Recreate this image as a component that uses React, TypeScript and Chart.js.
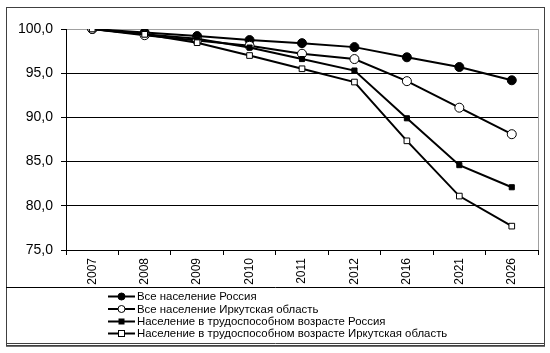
import React, { useEffect, useRef } from "react";
import { Chart, registerables } from "chart.js";

Chart.register(...registerables);

const years = ["2007", "2008", "2009", "2010", "2011", "2012", "2016", "2021", "2026"];
const allRussia = [100, 99.6, 99.2, 98.75, 98.4, 97.95, 96.8, 95.7, 94.2];
const allIrkutsk = [100, 99.3, 98.7, 98.1, 97.2, 96.6, 94.1, 91.1, 88.1];
const workRussia = [100, 99.4, 98.9, 97.9, 96.6, 95.3, 89.9, 84.6, 82.1];
const workIrkutsk = [100, 99.4, 98.45, 97.0, 95.5, 94.0, 87.35, 81.1, 77.7];
const seriesNames = [
  "Все население Россия",
  "Все население Иркутская область",
  "Население в трудоспособном возрасте Россия",
  "Население в трудоспособном возрасте Иркутская область",
];
const yMin = 75;
const yMax = 100;
const yStep = 5;

const FONT = "'Liberation Sans', Arial, sans-serif";

const frame = {
  id: "frame",
  afterDraw(chart: any) {
    const ctx = chart.ctx;
    const a = chart.chartArea;
    ctx.save();
    ctx.strokeStyle = "#a0a0a0";
    ctx.lineWidth = 1;
    ctx.beginPath();
    ctx.moveTo(Math.round(a.right) + 0.5, a.top);
    ctx.lineTo(Math.round(a.right) + 0.5, a.bottom);
    ctx.stroke();
    ctx.strokeStyle = "#404040";
    ctx.lineWidth = 1;
    ctx.strokeRect(6.5, 7.5, 538, 338);
    ctx.lineWidth = 1.5;
    ctx.beginPath();
    ctx.moveTo(6, 346);
    ctx.lineTo(545, 346);
    ctx.stroke();
    ctx.lineWidth = 1;
    ctx.beginPath();
    ctx.moveTo(6, 343.5);
    ctx.lineTo(545, 343.5);
    ctx.stroke();
    ctx.strokeStyle = "#000";
    ctx.beginPath();
    ctx.moveTo(6, 287.5);
    ctx.lineTo(545, 287.5);
    ctx.stroke();
    const rows = [296.5, 309, 321.5, 333.5];
    chart.data.datasets.forEach((ds: any, i: number) => {
      const y = rows[i];
      ctx.strokeStyle = "#000";
      ctx.lineWidth = 2;
      ctx.beginPath();
      ctx.moveTo(108, y);
      ctx.lineTo(135, y);
      ctx.stroke();
      ctx.lineWidth = 1;
      ctx.fillStyle = ds.pointBackgroundColor;
      ctx.strokeStyle = "#000";
      if (ds.pointStyle === "circle") {
        ctx.beginPath();
        ctx.arc(121.5, y, 3.5, 0, Math.PI * 2);
        ctx.fill();
        ctx.stroke();
      } else {
        const s = ds.pointBackgroundColor === "#fff" ? 3 : 2.5;
        ctx.fillRect(121.5 - s, y - s, 2 * s, 2 * s);
        ctx.strokeRect(121.5 - s, y - s, 2 * s, 2 * s);
      }
      ctx.fillStyle = "#000";
      ctx.font = `11.4px ${FONT}`;
      ctx.textBaseline = "middle";
      ctx.textAlign = "left";
      ctx.fillText(ds.label, 137, y + 0.5);
    });
    ctx.restore();
  },
};

export default function App() {
  const ref = useRef<HTMLCanvasElement | null>(null);
  useEffect(() => {
    if (!ref.current) return;
    const mk = (label: string, data: number[], style: string, fill: string, r: number, order: number) => ({
      label,
      data,
      order,
      borderColor: "#000",
      borderWidth: 2,
      pointStyle: style,
      pointRadius: r,
      pointBackgroundColor: fill,
      pointBorderColor: "#000",
      pointBorderWidth: 1,
      tension: 0,
      fill: false,
    });
    const chart = new Chart(ref.current, {
      type: "line",
      data: {
        labels: years,
        datasets: [
          mk(seriesNames[0], allRussia, "circle", "#000", 4.5, 4),
          mk(seriesNames[1], allIrkutsk, "circle", "#fff", 4.5, 3),
          mk(seriesNames[2], workRussia, "rect", "#000", 3.6, 2),
          mk(seriesNames[3], workIrkutsk, "rect", "#fff", 4, 1),
        ],
      },
      options: {
        animation: false,
        responsive: true,
        maintainAspectRatio: false,
        layout: { padding: { top: 29, right: 12, bottom: 66, left: 0 } },
        plugins: { legend: { display: false }, tooltip: { enabled: false } },
        scales: {
          x: {
            offset: true,
            grid: {
              offset: true,
              drawOnChartArea: false,
              drawTicks: true,
              tickLength: 5,
              tickColor: "#000",
            },
            border: { color: "#000", width: 1 },
            ticks: {
              minRotation: 90,
              maxRotation: 90,
              padding: 3,
              color: "#000",
              font: { family: FONT, size: 12 },
            },
            afterFit: (s: any) => {
              s.height = 37;
            },
          },
          y: {
            min: yMin,
            max: yMax,
            grid: {
              color: (c: any) => (c.tick && c.tick.value === 100 ? "#a0a0a0" : "#000"),
              tickColor: "#000",
              tickLength: 5,
            },
            border: { color: "#000", width: 1 },
            ticks: {
              stepSize: yStep,
              padding: 8,
              color: "#000",
              font: { family: FONT, size: 14 },
              callback: (v: any) => Number(v).toFixed(1).replace(".", ","),
            },
            afterFit: (s: any) => {
              s.width = 66;
            },
          },
        },
      },
      plugins: [frame],
    });
    return () => chart.destroy();
  }, []);
  return (
    <div style={{ position: "fixed", left: 0, top: 0, width: 550, height: 353, background: "#fff" }}>
      <canvas ref={ref} />
    </div>
  );
}
